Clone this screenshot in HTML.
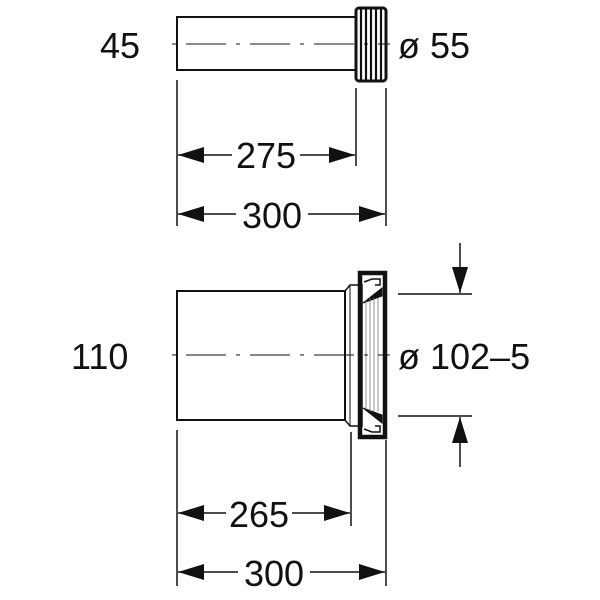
<!DOCTYPE html>
<html><head><meta charset="utf-8"><style>
html,body{margin:0;padding:0;background:#fff;width:600px;height:600px;overflow:hidden}
svg text{font-family:"Liberation Sans",sans-serif;fill:#111}
</style></head><body>
<svg width="600" height="600" viewBox="0 0 600 600" xmlns="http://www.w3.org/2000/svg">
<defs>
<marker id="a" viewBox="0 0 26 16" refX="26" refY="8" markerWidth="26" markerHeight="16" markerUnits="userSpaceOnUse" orient="auto-start-reverse"><path d="M0,0 L26,8 L0,16 Z" fill="#111"/></marker>
</defs>
<g stroke="#111" fill="none">
<rect x="177" y="17" width="179" height="53" stroke-width="2"/>
<rect x="356" y="8" width="30" height="73" stroke-width="3" rx="3"/>
<g stroke-width="2.2">
<line x1="361" y1="8" x2="361" y2="81"/><line x1="366" y1="8" x2="366" y2="81"/>
<line x1="371" y1="8" x2="371" y2="81"/><line x1="376" y1="8" x2="376" y2="81"/>
<line x1="381" y1="8" x2="381" y2="81"/>
</g>
<line x1="172" y1="44" x2="390" y2="44" stroke-width="1" stroke-dasharray="4,10,40,10"/>
<g stroke-width="1.5">
<line x1="177" y1="80" x2="177" y2="226"/>
<line x1="356" y1="88" x2="356" y2="166"/>
<line x1="386" y1="88" x2="386" y2="226"/>
</g>
<line x1="178" y1="155" x2="355" y2="155" stroke-width="1.5" marker-start="url(#a)" marker-end="url(#a)"/>
<line x1="178" y1="214" x2="385" y2="214" stroke-width="1.5" marker-start="url(#a)" marker-end="url(#a)"/>
<rect x="177" y="291" width="168" height="129" stroke-width="2"/>
<path d="M345,291 L350,285 L362,285 L362,426 L350,426 L345,420 Z" stroke-width="1.5"/>
<path d="M360,273 L385,273 L385,437 L360,437 Z" stroke-width="4.5"/>
<path d="M364,282 L372,279 L380,279 L380,285 L375,285 M364,429 L372,432 L380,432 L380,426 L375,426" stroke-width="1.5"/>
<path d="M363,303 L382,288 L382,296 Z" fill="#111" stroke-width="1"/>
<path d="M363,408 L382,423 L382,415 Z" fill="#111" stroke-width="1"/>
<g stroke-width="0.8" stroke="#777">
<line x1="366" y1="300" x2="366" y2="410"/><line x1="370" y1="298" x2="370" y2="412"/>
<line x1="374" y1="298" x2="374" y2="412"/><line x1="378" y1="298" x2="378" y2="412"/>
</g>
<line x1="350" y1="286" x2="350" y2="425" stroke-width="1"/>
<line x1="172" y1="355" x2="390" y2="355" stroke-width="1" stroke-dasharray="4,10,40,10"/>
<g stroke-width="1.5">
<line x1="398" y1="294" x2="472" y2="294"/>
<line x1="398" y1="416" x2="472" y2="416"/>
</g>
<line x1="460" y1="243" x2="460" y2="293" stroke-width="1.5" marker-end="url(#a)"/>
<line x1="460" y1="467" x2="460" y2="417" stroke-width="1.5" marker-end="url(#a)"/>
<g stroke-width="1.5">
<line x1="177" y1="430" x2="177" y2="586"/>
<line x1="351" y1="432" x2="351" y2="526"/>
<line x1="386" y1="440" x2="386" y2="586"/>
</g>
<line x1="178" y1="513" x2="350" y2="513" stroke-width="1.5" marker-start="url(#a)" marker-end="url(#a)"/>
<line x1="178" y1="572" x2="385" y2="572" stroke-width="1.5" marker-start="url(#a)" marker-end="url(#a)"/>
</g>
<g font-size="36">
<rect x="232" y="138" width="68" height="32" fill="#fff"/>
<text x="266" y="168" text-anchor="middle">275</text>
<rect x="236" y="197" width="72" height="34" fill="#fff"/>
<text x="272" y="228" text-anchor="middle">300</text>
<rect x="226" y="496" width="66" height="34" fill="#fff"/>
<text x="259" y="527" text-anchor="middle">265</text>
<rect x="238" y="555" width="72" height="34" fill="#fff"/>
<text x="274" y="586" text-anchor="middle">300</text>
<text x="100" y="58">45</text>
<text x="398" y="58">ø 55</text>
<text x="71" y="369">110</text>
<text x="398" y="369">ø 102–5</text>
</g>
</svg>
</body></html>
